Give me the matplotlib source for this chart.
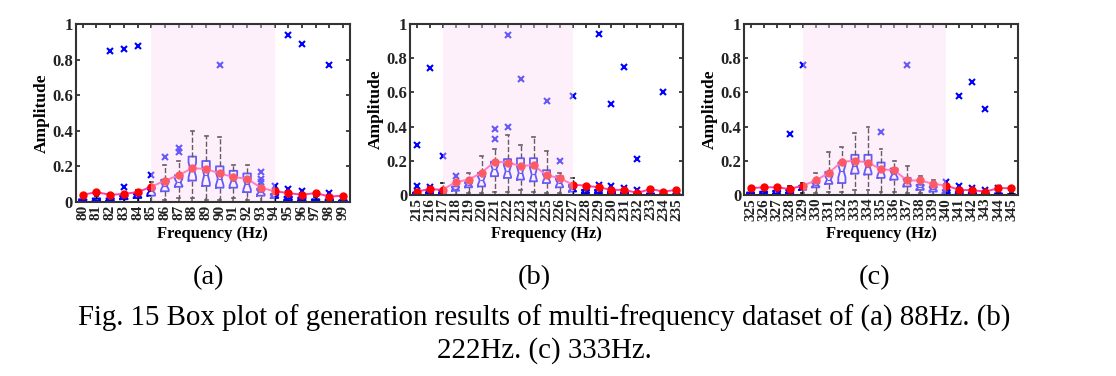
import matplotlib
matplotlib.use('Agg')
import matplotlib.pyplot as plt
import numpy as np

plt.rcParams['font.family'] = ['Liberation Serif', 'DejaVu Serif']

# ---- data ----
# (a) 88 Hz
freq_a = [80, 81, 82, 83, 84, 85, 86, 87, 88, 89, 90, 91, 92, 93, 94, 95, 96, 97, 98, 99]
q1_a = [0.003, 0.005, 0.005, 0.015, 0.022, 0.035, 0.06, 0.085, 0.12, 0.09, 0.08, 0.08, 0.055, 0.035, 0.022, 0.01, 0.008, 0.004, 0.003, 0.002]
med_a = [0.008, 0.012, 0.012, 0.025, 0.035, 0.06, 0.09, 0.11, 0.18, 0.15, 0.13, 0.12, 0.1, 0.055, 0.032, 0.02, 0.015, 0.01, 0.008, 0.005]
q3_a = [0.015, 0.02, 0.02, 0.035, 0.05, 0.08, 0.125, 0.15, 0.255, 0.23, 0.2, 0.175, 0.16, 0.075, 0.045, 0.03, 0.025, 0.015, 0.015, 0.01]
hi_a = [0.03, 0.035, 0.035, 0.05, 0.065, 0.11, 0.21, 0.23, 0.40, 0.37, 0.365, 0.21, 0.21, 0.10, 0.06, 0.045, 0.04, 0.03, 0.03, 0.02]
lo_a = [0, 0, 0, 0, 0, 0, 0.01, 0.02, 0.02, 0.01, 0.01, 0.02, 0.01, 0, 0, 0, 0, 0, 0, 0]
out_a = {82: [0.85], 83: [0.085, 0.86], 84: [0.875], 85: [0.15], 86: [0.25], 87: [0.28, 0.305],
         90: [0.77], 93: [0.11, 0.13, 0.17], 94: [0.09], 95: [0.075, 0.94], 96: [0.06, 0.89], 98: [0.05, 0.77]}
mean_a = [0.04, 0.055, 0.04, 0.045, 0.055, 0.085, 0.12, 0.15, 0.19, 0.185, 0.16, 0.14, 0.13, 0.08, 0.06, 0.05, 0.04, 0.05, 0.03, 0.035]
band_a = (85, 94)

# (b) 222 Hz
freq_b = [215, 216, 217, 218, 219, 220, 221, 222, 223, 224, 225, 226, 227, 228, 229, 230, 231, 232, 233, 234, 235]
q1_b = [0.002, 0.01, 0.01, 0.025, 0.045, 0.05, 0.11, 0.1, 0.09, 0.08, 0.07, 0.045, 0.02, 0.01, 0.01, 0.005, 0.004, 0.002, 0.001, 0.001, 0.001]
med_b = [0.008, 0.02, 0.02, 0.035, 0.06, 0.085, 0.15, 0.14, 0.13, 0.12, 0.1, 0.07, 0.035, 0.02, 0.018, 0.01, 0.008, 0.005, 0.004, 0.003, 0.002]
q3_b = [0.015, 0.03, 0.03, 0.05, 0.075, 0.13, 0.195, 0.21, 0.215, 0.215, 0.145, 0.11, 0.06, 0.03, 0.03, 0.02, 0.015, 0.01, 0.01, 0.005, 0.005]
hi_b = [0.03, 0.045, 0.07, 0.08, 0.13, 0.23, 0.27, 0.35, 0.29, 0.34, 0.255, 0.13, 0.1, 0.05, 0.05, 0.035, 0.03, 0.02, 0.02, 0.01, 0.01]
lo_b = [0, 0, 0, 0, 0.01, 0.01, 0.02, 0.02, 0.03, 0.02, 0.01, 0.01, 0, 0, 0, 0, 0, 0, 0, 0, 0]
out_b = {215: [0.05, 0.29], 216: [0.045, 0.745], 217: [0.23], 218: [0.11], 221: [0.33, 0.385], 222: [0.4, 0.935],
         223: [0.68], 225: [0.55], 226: [0.2], 227: [0.58], 229: [0.06, 0.94], 230: [0.055, 0.53],
         231: [0.04, 0.75], 232: [0.03, 0.21], 234: [0.605]}
mean_b = [0.02, 0.035, 0.03, 0.075, 0.09, 0.13, 0.195, 0.19, 0.17, 0.175, 0.115, 0.10, 0.06, 0.055, 0.045, 0.03, 0.03, 0.012, 0.035, 0.02, 0.03]
band_b = (217, 227)

# (c) 333 Hz
freq_c = [325, 326, 327, 328, 329, 330, 331, 332, 333, 334, 335, 336, 337, 338, 339, 340, 341, 342, 343, 344, 345]
q1_c = [0.002, 0.003, 0.005, 0.01, 0.03, 0.045, 0.065, 0.07, 0.125, 0.12, 0.1, 0.09, 0.05, 0.03, 0.02, 0.01, 0.005, 0.004, 0.002, 0.002, 0.001]
med_c = [0.007, 0.01, 0.012, 0.02, 0.04, 0.06, 0.09, 0.14, 0.17, 0.165, 0.14, 0.12, 0.075, 0.045, 0.035, 0.02, 0.012, 0.01, 0.006, 0.005, 0.003]
q3_c = [0.015, 0.02, 0.025, 0.03, 0.055, 0.08, 0.135, 0.19, 0.235, 0.235, 0.19, 0.155, 0.1, 0.06, 0.05, 0.03, 0.02, 0.015, 0.01, 0.01, 0.005]
hi_c = [0.03, 0.035, 0.04, 0.055, 0.07, 0.13, 0.25, 0.28, 0.36, 0.40, 0.27, 0.2, 0.17, 0.11, 0.085, 0.05, 0.035, 0.03, 0.02, 0.02, 0.01]
lo_c = [0, 0, 0, 0, 0.01, 0.01, 0.02, 0.02, 0.03, 0.03, 0.02, 0.02, 0.01, 0.01, 0, 0, 0, 0, 0, 0, 0]
out_c = {328: [0.355], 329: [0.76], 335: [0.37], 337: [0.76], 340: [0.075], 341: [0.055, 0.58],
         342: [0.04, 0.66], 343: [0.03, 0.505], 344: [0.04]}
mean_c = [0.04, 0.045, 0.045, 0.035, 0.055, 0.085, 0.13, 0.195, 0.2, 0.19, 0.15, 0.145, 0.085, 0.085, 0.065, 0.055, 0.03, 0.028, 0.02, 0.04, 0.04]
band_c = (329, 340)

labels = ['(a)', '(b)', '(c)']
caption1 = 'Fig. 15 Box plot of generation results of multi-frequency dataset of (a) 88Hz. (b)'
caption2 = '222Hz. (c) 333Hz.'

panels = [
    (freq_a, q1_a, med_a, q3_a, hi_a, lo_a, out_a, mean_a, band_a),
    (freq_b, q1_b, med_b, q3_b, hi_b, lo_b, out_b, mean_b, band_b),
    (freq_c, q1_c, med_c, q3_c, hi_c, lo_c, out_c, mean_c, band_c),
]

# axes rectangles in figure fraction
rects = [
    [0.068, 0.463, 0.2455, 0.473],
    [0.3674, 0.4814, 0.2446, 0.4548],
    [0.6667, 0.4814, 0.2455, 0.4548],
]

fig = plt.figure(figsize=(11.16, 3.76), dpi=100)

for (freq, q1, med, q3, hi, lo, outl, mean, band), rect in zip(panels, rects):
    ax = fig.add_axes(rect)
    pos = np.arange(1, len(freq) + 1)
    stats = []
    for i, f in enumerate(freq):
        iqr = q3[i] - q1[i]
        half = 0.3 * iqr
        stats.append(dict(med=med[i], q1=q1[i], q3=q3[i], whislo=lo[i], whishi=hi[i],
                          fliers=outl.get(f, []),
                          cilo=max(q1[i], med[i] - half), cihi=min(q3[i], med[i] + half)))
    ax.bxp(stats, positions=pos, widths=0.55, shownotches=True, capwidths=0.22,
           boxprops=dict(color='#0000ff', lw=1.3),
           medianprops=dict(color='#0000ff', lw=0.8),
           whiskerprops=dict(color='black', lw=1.0, ls='--'),
           capprops=dict(color='black', lw=1.2),
           flierprops=dict(marker='x', markeredgecolor='#0000ff', markersize=4, markeredgewidth=1.5))
    ax.plot(pos, mean, color='#ff3ea5', lw=1.4, zorder=4)
    ax.plot(pos, mean, 'o', color='#ff0000', ms=5, zorder=5)
    # translucent pink band drawn on top
    b0 = freq.index(band[0]) + 1
    b1 = freq.index(band[1]) + 1
    ax.axvspan(b0, b1, color=(251/255, 220/255, 245/255), alpha=0.41, lw=0, zorder=10)

    ax.set_xlim(0.5, len(freq) + 0.5)
    ax.set_ylim(0, 1)
    ax.set_xticks(pos)
    ax.set_xticklabels([str(f) for f in freq], rotation=90, fontsize=11, fontweight='bold')
    ax.set_yticks([0, 0.2, 0.4, 0.6, 0.8, 1])
    ax.set_yticklabels(['0', '0.2', '0.4', '0.6', '0.8', '1'], fontsize=12, fontweight='bold')
    ax.tick_params(direction='in', top=True, right=True, length=3, width=1.2, pad=2, colors='#222222')
    ax.set_ylabel('Amplitude', fontsize=12.5, fontweight='bold', labelpad=2)
    ax.set_xlabel('Frequency (Hz)', fontsize=12, fontweight='bold', labelpad=4)
    for s in ax.spines.values():
        s.set_linewidth(1.5)
        s.set_color('#333333')
        s.set_zorder(11)

for lab, x in zip(labels, [0.1864, 0.479, 0.784]):
    fig.text(x, 0.263, lab, ha='center', va='center', fontsize=20.5)
fig.text(0.488, 0.154, caption1, ha='center', va='center', fontsize=20.8)
fig.text(0.488, 0.069, caption2, ha='center', va='center', fontsize=20.8)

fig.savefig('out.png', dpi=100)
